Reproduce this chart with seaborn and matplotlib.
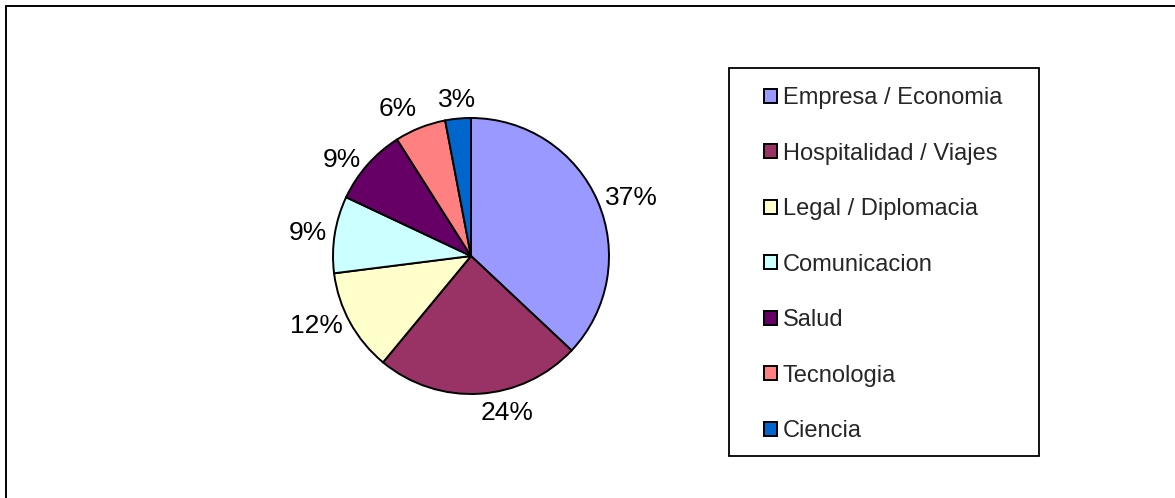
import matplotlib
matplotlib.use("Agg")
import numpy as np
import matplotlib.pyplot as plt
import matplotlib.patches as mpatches
from matplotlib.lines import Line2D
import seaborn as sns

# data
categories = ["Empresa / Economia", "Hospitalidad / Viajes", "Legal / Diplomacia",
              "Comunicacion", "Salud", "Tecnologia", "Ciencia"]
shares = [37, 24, 12, 9, 9, 6, 3]
colors = ["#9999FF", "#993366", "#FFFFCC", "#CCFFFF", "#660066", "#FF8080", "#0066CC"]

sns.set_style("white")
plt.rcParams["font.family"] = ["Liberation Sans", "DejaVu Sans"]

W, H = 1175, 498
fig = plt.figure(figsize=(W / 100, H / 100), dpi=100)

# pie axes, centre (471, 256) px, radius 138 px
cx, cy, r = 471, 256, 138
ax = fig.add_axes([(cx - r) / W, (H - cy - r) / H, 2 * r / W, 2 * r / H])
palette = sns.color_palette(colors)
wedges, _ = ax.pie(
    shares, colors=palette, startangle=90, counterclock=False,
    wedgeprops=dict(edgecolor="black", linewidth=1.4))
ax.set_xlim(-1, 1)
ax.set_ylim(-1, 1)
ax.set_aspect("equal")

# Excel-style outside labels: anchored just off the rim, aligned away from the pie
for w, val in zip(wedges, shares):
    ang = np.deg2rad((w.theta1 + w.theta2) / 2)
    c, s = np.cos(ang), np.sin(ang)
    ha = "left" if c > 0.3 else ("right" if c < -0.3 else "center")
    va = "bottom" if s > 0.7 else ("top" if s < -0.7 else "center")
    if s < -0.7:
        ha = "left" if c > 0 else "right"
    ax.text(1.06 * c, 1.05 * s, f"{val}%", ha=ha, va=va, fontsize=19, color="black")

# legend box
fig.patches.append(mpatches.Rectangle((729 / W, (H - 456) / H), 310 / W, 388 / H,
                                      transform=fig.transFigure, fill=False,
                                      edgecolor="black", linewidth=1.3))
handles = [mpatches.Patch(facecolor=c, edgecolor="black", linewidth=1.4) for c in palette]
fig.legend(handles, categories, loc="upper left",
           bbox_to_anchor=(764 / W, (H - 87) / H), frameon=False,
           fontsize=17, borderpad=0, borderaxespad=0,
           handlelength=0.55, handleheight=0.55, handletextpad=0.25,
           labelspacing=1.42)

# outer chart frame (left and top edges visible)
fig.add_artist(Line2D([5.5 / W, 5.5 / W], [0, (H - 6) / H], color="black", linewidth=1.4,
                      transform=fig.transFigure))
fig.add_artist(Line2D([5.5 / W, 1], [(H - 6) / H, (H - 6) / H], color="black", linewidth=1.4,
                      transform=fig.transFigure))

fig.savefig("out.png", dpi=100)
